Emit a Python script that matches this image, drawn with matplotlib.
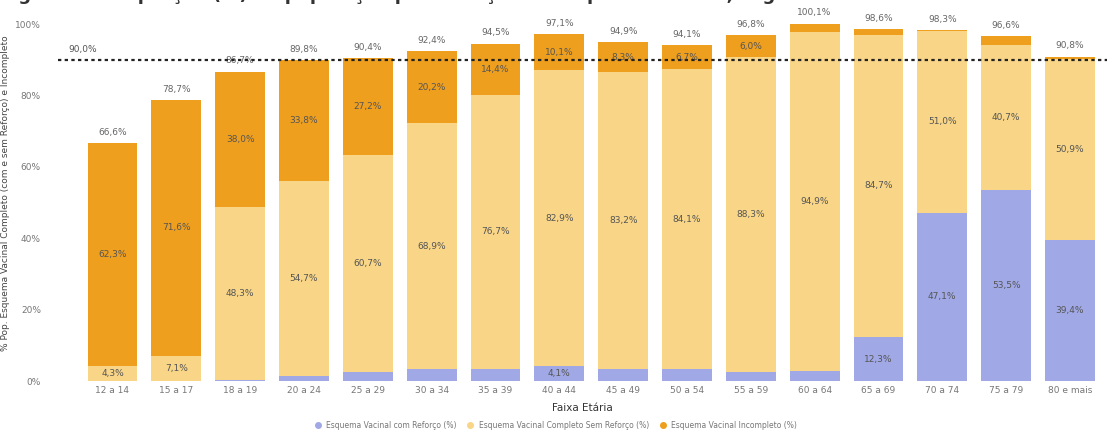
import numpy as np
import matplotlib
matplotlib.use('Agg')
import matplotlib.pyplot as plt
from matplotlib.lines import Line2D

faixas = ['12 a 14', '15 a 17', '18 a 19', '20 a 24', '25 a 29', '30 a 34',
          '35 a 39', '40 a 44', '45 a 49', '50 a 54', '55 a 59', '60 a 64',
          '65 a 69', '70 a 74', '75 a 79', '80 e mais']

# % da populacao por situacao vacinal
com_reforco = [0.0, 0.0, 0.4, 1.3, 2.5, 3.3, 3.4, 4.1, 3.4, 3.3, 2.5, 2.9,
               12.3, 47.1, 53.5, 39.4]
completo_sem_reforco = [4.3, 7.1, 48.3, 54.7, 60.7, 68.9, 76.7, 82.9, 83.2, 84.1,
                        88.3, 94.9, 84.7, 51.0, 40.7, 50.9]
incompleto = [62.3, 71.6, 38.0, 33.8, 27.2, 20.2, 14.4, 10.1, 8.3, 6.7,
              6.0, 2.3, 1.6, 0.2, 2.4, 0.5]
meta = 90.0

series = [('Esquema Vacinal com Reforço (%)', com_reforco, '#a0a9e6'),
          ('Esquema Vacinal Completo Sem Reforço (%)', completo_sem_reforco, '#f8d587'),
          ('Esquema Vacinal Incompleto (%)', incompleto, '#ef9f1e')]

def fmt(v):
    return ('%.1f%%' % v).replace('.', ',')

fig = plt.figure(figsize=(11.07, 4.41), dpi=100)
ax = fig.add_axes([0.052, 0.136, 0.948, 0.850])

x = np.arange(len(faixas))
bottom = np.zeros(len(faixas))
for name, vals, color in series:
    vals = np.array(vals)
    ax.bar(x, vals, 0.78, bottom=bottom, color=color, label=name)
    for xi, b, v in zip(x, bottom, vals):
        if v >= 4.0:
            ax.text(xi, b + v / 2, fmt(v), ha='center', va='center',
                    fontsize=6.5, color='#555555')
    bottom += vals

# total acima de cada barra
for xi, t in zip(x, bottom):
    ax.text(xi, t + 1.8, fmt(t), ha='center', va='bottom', fontsize=6.5, color='#666666')

ax.axhline(meta, color='#222222', lw=1.6, ls=(0, (1.5, 1.5)), zorder=3)
ax.text(-0.47, meta + 1.5, fmt(meta), ha='center', va='bottom', fontsize=6.5, color='#555555')

ax.set_xlim(-0.86, 15.58)
ax.set_ylim(0, 105)
ax.set_yticks([0, 20, 40, 60, 80, 100])
ax.set_yticklabels(['0%', '20%', '40%', '60%', '80%', '100%'])
ax.set_xticks(x)
ax.set_xticklabels(faixas)
ax.tick_params(length=0, labelsize=6.5, labelcolor='#777777')
ax.tick_params(axis='y', pad=12)
for s in ax.spines.values():
    s.set_visible(False)

ax.set_xlabel('Faixa Etária', fontsize=7.5, color='#333333', labelpad=6)
ax.set_ylabel('% Pop. Esquema Vacinal Completo (com e sem Reforço) e Incompleto',
              fontsize=6.5, color='#444444', labelpad=4)
ax.yaxis.set_label_coords(-0.045, 0.5)

handles = [Line2D([], [], marker='o', ls='', color=c, markersize=4) for _, _, c in series]
fig.legend(handles, [n for n, _, _ in series], loc='center', bbox_to_anchor=(0.5, 0.036),
           ncol=3, frameon=False, fontsize=5.5, labelcolor='#777777',
           handletextpad=0.1, columnspacing=0.8)

# titulo da figura, quase todo acima da borda
fig.text(0.0, 1 + 0.5 / 441, 'Figura 3 - Proporção (%) da população por situação do esquema vacinal, segundo faixa etária',
         fontsize=13, fontweight='bold', color='#333333', va='baseline', ha='left')

fig.savefig('out.png', dpi=100, facecolor='white')
